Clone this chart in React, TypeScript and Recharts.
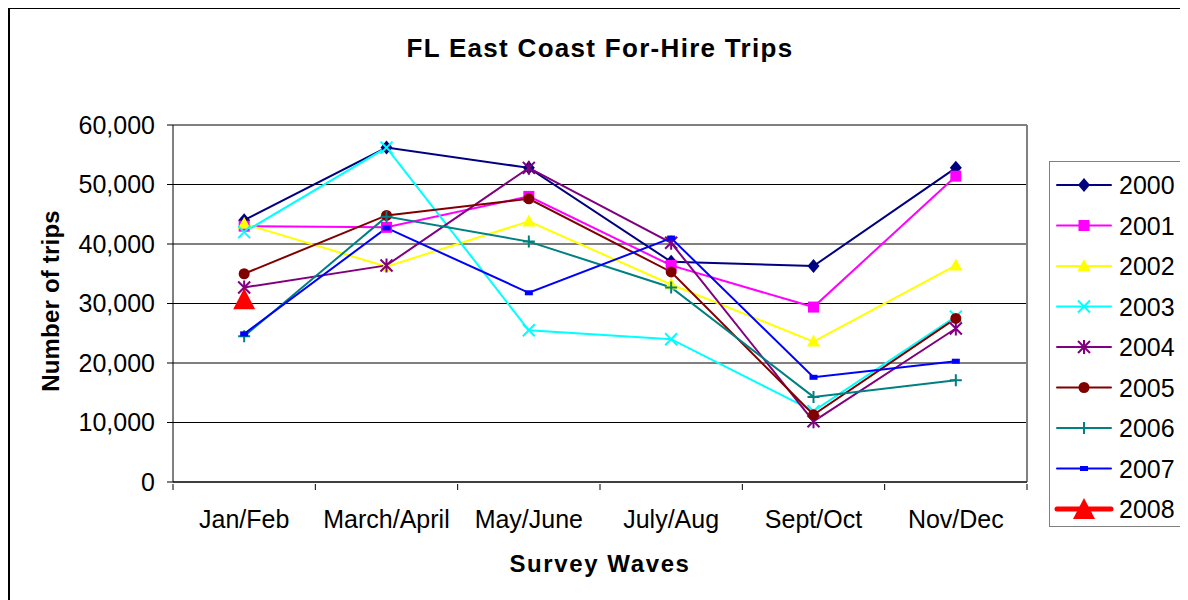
import React from 'react';
import {
  LineChart,
  Line,
  XAxis,
  YAxis,
  CartesianGrid,
  ReferenceLine,
} from 'recharts';

const waves = ['Jan/Feb', 'March/April', 'May/June', 'July/Aug', 'Sept/Oct', 'Nov/Dec'];

const trips2000 = [44000, 56200, 52800, 37000, 36300, 52800];
const trips2001 = [43000, 42800, 48000, 36400, 29400, 51400];
const trips2002 = [43400, 36200, 43800, 33200, 23600, 36400];
const trips2003 = [42000, 56200, 25500, 24000, 11900, 27800];
const trips2004 = [32700, 36400, 52800, 40200, 10200, 25800];
const trips2005 = [35000, 44800, 47600, 35300, 11300, 27500];
const trips2006 = [24500, 44600, 40400, 32700, 14300, 17100];
const trips2007 = [24900, 42700, 31800, 41000, 17600, 20300];
const trips2008 = [30700, null, null, null, null, null];

const yTicks = [0, 10000, 20000, 30000, 40000, 50000, 60000];

const FONT = '"Liberation Sans", Arial, sans-serif';

type Shape = 'diamond' | 'square' | 'triangle' | 'x' | 'star' | 'circle' | 'plus' | 'dash' | 'bigTriangle';

const seriesList: { key: string; name: string; values: (number | null)[]; color: string; shape: Shape; width: number }[] = [
  { key: 'y2000', name: '2000', values: trips2000, color: '#000080', shape: 'diamond', width: 2 },
  { key: 'y2001', name: '2001', values: trips2001, color: '#FF00FF', shape: 'square', width: 2 },
  { key: 'y2002', name: '2002', values: trips2002, color: '#FFFF00', shape: 'triangle', width: 2 },
  { key: 'y2003', name: '2003', values: trips2003, color: '#00FFFF', shape: 'x', width: 2 },
  { key: 'y2004', name: '2004', values: trips2004, color: '#800080', shape: 'star', width: 2 },
  { key: 'y2005', name: '2005', values: trips2005, color: '#800000', shape: 'circle', width: 2 },
  { key: 'y2006', name: '2006', values: trips2006, color: '#008080', shape: 'plus', width: 2 },
  { key: 'y2007', name: '2007', values: trips2007, color: '#0000FF', shape: 'dash', width: 2 },
  { key: 'y2008', name: '2008', values: trips2008, color: '#FF0000', shape: 'bigTriangle', width: 5 },
];

const data = waves.map((w, i) => {
  const row: Record<string, any> = { x: i + 0.5, wave: w };
  seriesList.forEach((s) => {
    row[s.key] = s.values[i];
  });
  return row;
});

function marker(shape: Shape, cx: number, cy: number, color: string) {
  switch (shape) {
    case 'diamond':
      return <path d={`M${cx},${cy - 7}L${cx + 6},${cy}L${cx},${cy + 7}L${cx - 6},${cy}Z`} fill={color} />;
    case 'square':
      return <rect x={cx - 5.5} y={cy - 5.5} width={11} height={11} fill={color} />;
    case 'triangle':
      return <path d={`M${cx},${cy - 7}L${cx + 6.5},${cy + 5}L${cx - 6.5},${cy + 5}Z`} fill={color} />;
    case 'x':
      return (
        <path d={`M${cx - 6},${cy - 6}L${cx + 6},${cy + 6}M${cx + 6},${cy - 6}L${cx - 6},${cy + 6}`} stroke={color} strokeWidth={2} />
      );
    case 'star':
      return (
        <path
          d={`M${cx - 6},${cy - 6}L${cx + 6},${cy + 6}M${cx + 6},${cy - 6}L${cx - 6},${cy + 6}M${cx},${cy - 7}L${cx},${cy + 7}`}
          stroke={color}
          strokeWidth={2}
        />
      );
    case 'circle':
      return <circle cx={cx} cy={cy} r={5.5} fill={color} />;
    case 'plus':
      return <path d={`M${cx - 6},${cy}L${cx + 6},${cy}M${cx},${cy - 6}L${cx},${cy + 6}`} stroke={color} strokeWidth={2} />;
    case 'dash':
      return <rect x={cx - 4} y={cy - 2.5} width={8} height={5} fill={color} />;
    case 'bigTriangle':
      return <path d={`M${cx},${cy - 11}L${cx + 11},${cy + 10}L${cx - 11},${cy + 10}Z`} fill={color} />;
  }
  return null;
}

function makeDot(shape: Shape, color: string) {
  return (props: any) => {
    const { cx, cy, value, index } = props;
    if (value == null || cx == null || cy == null) return <g key={index} />;
    return <g key={index}>{marker(shape, cx, cy, color)}</g>;
  };
}

function WaveTick(props: any) {
  const { x, y, payload } = props;
  const v = payload.value as number;
  if (Number.isInteger(v)) {
    return <line x1={x} y1={y - 6} x2={x} y2={y} stroke="#000" strokeWidth={1} />;
  }
  return (
    <text x={x} y={y + 29} textAnchor="middle" dominantBaseline="central" fontSize={25} fontFamily={FONT} fill="#000">
      {waves[Math.floor(v)]}
    </text>
  );
}

function LegendBox() {
  return (
    <div
      style={{
        position: 'absolute',
        left: 1039,
        top: 152,
        width: 131,
        height: 364,
        border: '1px solid #808080',
        background: '#fff',
        boxSizing: 'content-box',
      }}
    >
      <svg width={131} height={364}>
        {seriesList.map((s, i) => {
          const cy = 23 + i * 40.5;
          return (
            <g key={s.key}>
              <line x1={7} x2={61} y1={cy} y2={cy} stroke={s.color} strokeWidth={s.width} strokeLinecap="round" />
              {marker(s.shape, 34, cy, s.color)}
              <text x={69} y={cy} dominantBaseline="central" fontSize={25} fontFamily={FONT} fill="#000">
                {s.name}
              </text>
            </g>
          );
        })}
      </svg>
    </div>
  );
}

export default function App() {
  return (
    <div
      style={{
        position: 'relative',
        width: 1176,
        height: 600,
        border: '2px solid #000',
        borderBottom: 'none',
        marginTop: -1,
        background: '#fff',
        fontFamily: FONT,
      }}
    >
      <div
        style={{
          position: 'absolute',
          left: 0,
          width: 1180,
          top: 24,
          textAlign: 'center',
          fontSize: 26,
          fontWeight: 'bold',
          letterSpacing: 1.3,
          lineHeight: '30px',
        }}
      >
        FL East Coast For-Hire Trips
      </div>
      <div
        style={{
          position: 'absolute',
          left: 41 - 150,
          top: 300 - 15 - 8,
          width: 300,
          height: 30,
          lineHeight: '30px',
          textAlign: 'center',
          fontSize: 24,
          fontWeight: 'bold',
          letterSpacing: 0.2,
          transform: 'rotate(-90deg)',
        }}
      >
        Number of trips
      </div>
      <div
        style={{
          position: 'absolute',
          left: 0,
          width: 1180,
          top: 540,
          textAlign: 'center',
          fontSize: 24,
          fontWeight: 'bold',
          letterSpacing: 1.6,
          lineHeight: '30px',
        }}
      >
        Survey Waves
      </div>
      <div style={{ position: 'absolute', left: -2, top: -1 }}>
        <LineChart width={1178} height={600} data={data} margin={{ top: 117, right: 159, left: 65, bottom: 66 }}>
          <CartesianGrid horizontal vertical={false} stroke="#000" strokeWidth={1} />
          <XAxis
            dataKey="x"
            type="number"
            domain={[0, 6]}
            ticks={[0, 0.5, 1, 1.5, 2, 2.5, 3, 3.5, 4, 4.5, 5, 5.5, 6]}
            interval={0}
            tickLine={false}
            axisLine={{ stroke: '#000' }}
            tick={<WaveTick />}
            height={60}
          />
          <YAxis
            type="number"
            domain={[0, 60000]}
            ticks={yTicks}
            interval={0}
            width={100}
            tickSize={6}
            tickMargin={12}
            axisLine={{ stroke: '#000' }}
            tickLine={{ stroke: '#000' }}
            tick={{ fontSize: 25, fontFamily: FONT, fill: '#000' }}
            tickFormatter={(v: number) => v.toLocaleString('en-US')}
          />
          <ReferenceLine x={6} stroke="#808080" strokeWidth={2} />
          {seriesList.map((s) => (
            <Line
              key={s.key}
              type="linear"
              dataKey={s.key}
              name={s.name}
              stroke={s.color}
              strokeWidth={s.width}
              dot={makeDot(s.shape, s.color)}
              activeDot={false}
              connectNulls={false}
              isAnimationActive={false}
            />
          ))}
        </LineChart>
      </div>
      <LegendBox />
    </div>
  );
}
